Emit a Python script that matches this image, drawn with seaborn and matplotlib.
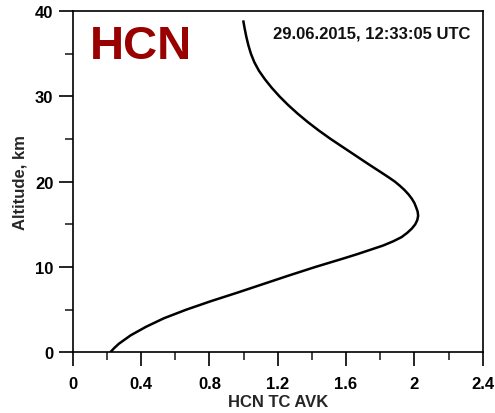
import matplotlib
matplotlib.use("Agg")
import matplotlib.pyplot as plt
from matplotlib.ticker import MultipleLocator
import seaborn as sns
import pandas as pd

# HCN total-column averaging kernel profile
altitude_km = [0, 0.5, 1, 2, 3, 4, 5, 6, 7, 8, 9, 10, 11, 11.5, 12, 12.5, 13, 13.5, 14,
               14.5, 15, 15.5, 16, 16.5, 17, 17.5, 18, 18.5, 19, 19.5, 20, 20.5, 21, 22,
               23, 24, 25, 26, 27, 28, 29, 30, 31, 32, 33, 34, 35, 36, 37, 38, 38.9]
avk = [0.22, 0.243, 0.27, 0.34, 0.43, 0.535, 0.665, 0.81, 0.965, 1.115, 1.265, 1.42,
       1.585, 1.665, 1.74, 1.815, 1.875, 1.925, 1.958, 1.985, 2.005, 2.017, 2.022, 2.019,
       2.01, 2.0, 1.985, 1.966, 1.943, 1.916, 1.886, 1.85, 1.812, 1.735, 1.66, 1.585,
       1.51, 1.44, 1.375, 1.315, 1.26, 1.21, 1.165, 1.125, 1.09, 1.063, 1.043, 1.028,
       1.016, 1.006, 0.998]

x_ticks = [0, 0.4, 0.8, 1.2, 1.6, 2, 2.4]
x_ticklabels = ["0", "0.4", "0.8", "1.2", "1.6", "2", "2.4"]
y_ticks = [0, 10, 20, 30, 40]

df = pd.DataFrame({"avk": avk, "alt": altitude_km})

sns.set_style("ticks")
plt.rcParams["font.family"] = ["Liberation Sans", "DejaVu Sans"]
plt.rcParams["font.weight"] = "bold"

fig = plt.figure(figsize=(4.95, 4.14), dpi=100)
ax = fig.add_axes([0.1469, 0.1466, 0.8283, 0.8244])

sns.lineplot(data=df, x="avk", y="alt", sort=False, orient="y",
             color="black", linewidth=1.8, ax=ax,
             solid_joinstyle="round", solid_capstyle="butt")

ax.set_xlim(0, 2.4)
ax.set_ylim(0, 40)
ax.set_xticks(x_ticks)
ax.set_xticklabels(x_ticklabels)
ax.set_yticks(y_ticks)
ax.xaxis.set_minor_locator(MultipleLocator(0.2))
ax.yaxis.set_minor_locator(MultipleLocator(5))

for side in ["left", "right", "top", "bottom"]:
    ax.spines[side].set_visible(True)
    ax.spines[side].set_linewidth(1.2)
    ax.spines[side].set_color("black")

ax.tick_params(axis="both", which="major", direction="out", length=10, width=1.2,
               labelsize=12, colors="black")
ax.tick_params(axis="both", which="minor", direction="out", length=5.5, width=1.2)
ax.tick_params(axis="x", which="major", pad=7)
ax.tick_params(axis="y", which="major", pad=4)
for lbl in ax.get_xticklabels() + ax.get_yticklabels():
    lbl.set_fontweight("bold")

ax.set_xlabel("HCN TC AVK", fontsize=12, fontweight="bold", labelpad=2)
ax.set_ylabel("Altitude, km", fontsize=12, fontweight="bold", labelpad=5)

ax.text(0.042, 0.897, "HCN", transform=ax.transAxes, fontsize=34, fontweight="bold",
        color="#990000", ha="left", va="center")
ax.text(0.97, 0.935, "29.06.2015, 12:33:05 UTC", transform=ax.transAxes,
        fontsize=12, fontweight="bold", ha="right", va="center", color="#111111")

fig.savefig("out.png", dpi=100, facecolor="white")
